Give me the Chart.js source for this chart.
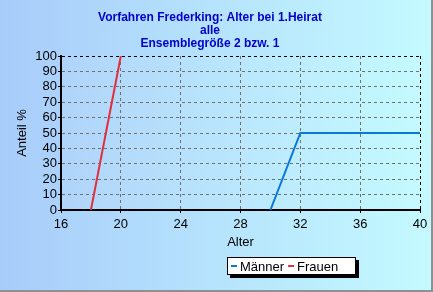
<!DOCTYPE html>
<html>
<head>
<meta charset="utf-8">
<script src="https://cdn.jsdelivr.net/npm/chart.js@4"></script>
<style>
  html, body { margin: 0; padding: 0; }
  #wrap { width: 433px; height: 292px; }
</style>
</head>
<body>
<div id="wrap"><canvas id="chart"></canvas></div>
<script>
const titleLines = ['Vorfahren Frederking: Alter bei 1.Heirat', 'alle', 'Ensemblegröße 2 bzw. 1'];
const seriesNames = ['Männer', 'Frauen'];
const maennerAlter = [30, 32, 40];
const maennerAnteil = [0, 50, 50];
const frauenAlter = [18, 20];
const frauenAnteil = [0, 100];
const xTicks = [16, 20, 24, 28, 32, 36, 40];

function points(xs, ys) {
    return xs.map((x, i) => ({ x: x, y: ys[i] }));
}

const background = {
    id: 'background',
    beforeDraw: function (chart) {
        const c = chart.ctx;
        const w = chart.width, h = chart.height;
        const g = c.createLinearGradient(0, 0, w, 0);
        g.addColorStop(0, '#a8ccfa');
        g.addColorStop(1, '#c4faff');
        c.save();
        c.fillStyle = g;
        c.fillRect(0, 0, w, h);
        const a = chart.chartArea;
        const g2 = c.createLinearGradient(a.left, 0, a.right, 0);
        g2.addColorStop(0, '#b0d4fa');
        g2.addColorStop(1, '#c4faff');
        c.fillStyle = g2;
        c.fillRect(a.left, a.top, a.right - a.left, a.bottom - a.top);
        c.fillStyle = '#909090';
        c.fillRect(w - 2, 0, 2, h);
        c.fillRect(0, h - 2, w, 2);
        c.restore();
    }
};

const legendBox = {
    id: 'legendBox',
    afterDraw: function (chart) {
        const c = chart.ctx;
        const x = 227, y = 257, w = 129, h = 18;
        c.save();
        c.fillStyle = '#000';
        c.fillRect(x + 3, y + 3, w, h);
        c.fillStyle = '#fff';
        c.fillRect(x, y, w, h);
        c.strokeStyle = '#000';
        c.lineWidth = 1;
        c.strokeRect(x + 0.5, y + 0.5, w - 1, h - 1);
        c.font = '13px Arial, "Liberation Sans"';
        c.textBaseline = 'middle';
        let cx = x + 4;
        chart.data.datasets.forEach(ds => {
            c.strokeStyle = ds.borderColor;
            c.lineWidth = 2;
            c.beginPath();
            c.moveTo(cx, y + h / 2);
            c.lineTo(cx + 6, y + h / 2);
            c.stroke();
            cx += 9;
            c.fillStyle = '#000';
            c.fillText(ds.label, cx, y + h / 2 + 1);
            cx += c.measureText(ds.label).width + 4;
        });
        c.restore();
    }
};

new Chart(document.getElementById('chart').getContext('2d'), {
    type: 'line',
    data: {
        datasets: [
            {
                label: seriesNames[0],
                data: points(maennerAlter, maennerAnteil),
                borderColor: '#0a78d8',
                borderWidth: 2,
                pointRadius: 0,
                tension: 0
            },
            {
                label: seriesNames[1],
                data: points(frauenAlter, frauenAnteil),
                borderColor: '#e03040',
                borderWidth: 2,
                pointRadius: 0,
                tension: 0
            }
        ]
    },
    options: {
        responsive: true,
        maintainAspectRatio: false,
        animation: false,
        layout: { padding: { left: 0, right: 13, top: 0, bottom: 42 } },
        plugins: {
            legend: { display: false },
            tooltip: { enabled: false },
            title: {
                display: true,
                text: titleLines,
                color: '#0000cc',
                font: { family: 'Arial, "Liberation Sans"', size: 12, weight: 'bold', lineHeight: 13 / 12 },
                padding: { top: 11, bottom: 6 }
            }
        },
        scales: {
            x: {
                type: 'linear',
                min: 16,
                max: 40,
                afterBuildTicks: function (axis) {
                    axis.ticks = xTicks.map(v => ({ value: v }));
                },
                afterFit: function (axis) { axis.height = 40; },
                ticks: {
                    color: '#000',
                    autoSkip: false,
                    maxRotation: 0,
                    font: { family: 'Arial, "Liberation Sans"', size: 13 },
                    padding: 4
                },
                grid: {
                    color: ctx => ctx.tick && ctx.tick.value === 40 ? '#000' : '#707070',
                    lineWidth: 1,
                    tickColor: '#000',
                    tickLength: 3
                },
                border: { display: true, color: '#000', width: 2, dash: [3, 3] },
                title: {
                    display: true,
                    text: 'Alter',
                    color: '#000',
                    font: { family: 'Arial, "Liberation Sans"', size: 13 },
                    padding: { top: 0, bottom: 0 }
                }
            },
            y: {
                min: 0,
                max: 100,
                afterFit: function (axis) { axis.width = 61; },
                ticks: {
                    stepSize: 10,
                    autoSkip: false,
                    color: '#000',
                    font: { family: 'Arial, "Liberation Sans"', size: 13 },
                    padding: 1
                },
                grid: {
                    color: ctx => ctx.tick && ctx.tick.value === 100 ? '#000' : '#707070',
                    lineWidth: 1,
                    tickColor: '#000',
                    tickLength: 3
                },
                border: { display: true, color: '#000', width: 2, dash: [3, 3] },
                title: {
                    display: true,
                    text: 'Anteil %',
                    color: '#000',
                    font: { family: 'Arial, "Liberation Sans"', size: 13 },
                    padding: { top: 15, bottom: 0 }
                }
            }
        }
    },
    plugins: [background, legendBox]
});
</script>
</body>
</html>
